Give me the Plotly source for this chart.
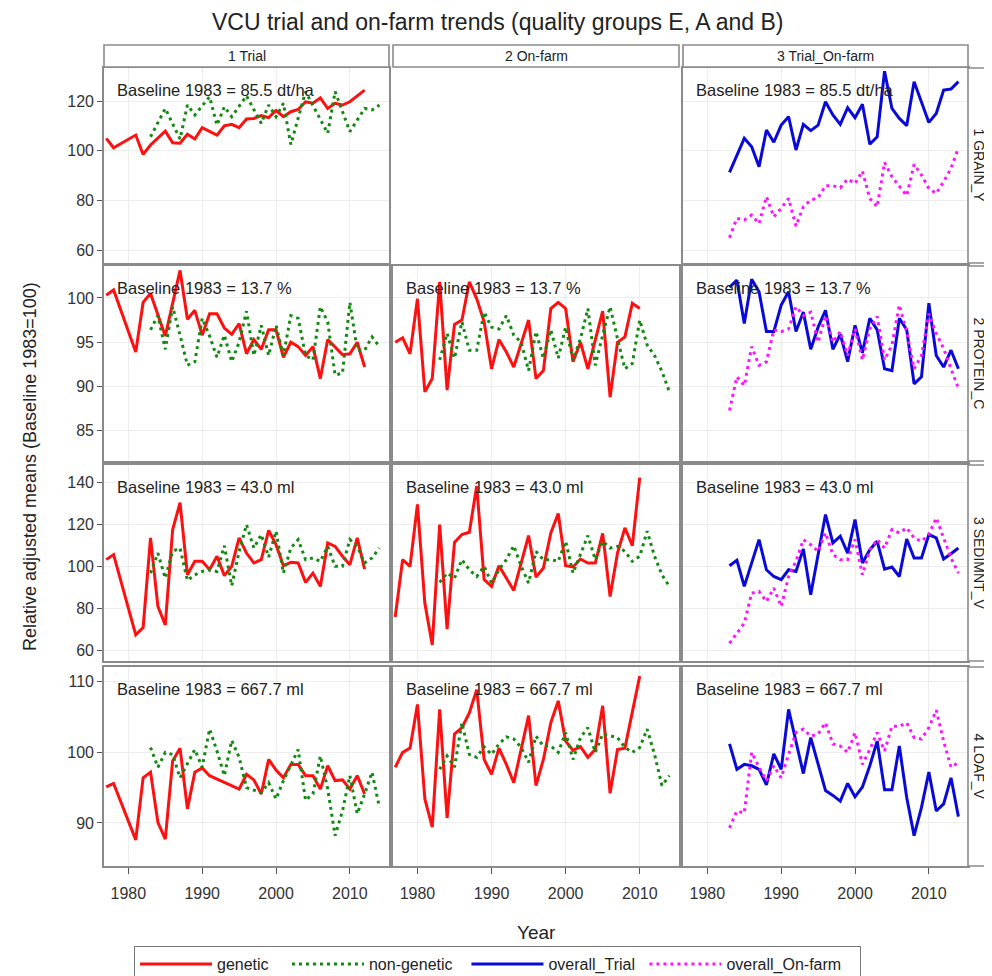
import plotly.graph_objects as go

# ---------------- data ----------------
YEARS_GEN_TRIAL = list(range(1977, 2013))    # genetic, 1 Trial
YEARS_GEN_FARM = list(range(1977, 2011))     # genetic, 2 On-farm
YEARS_REST = list(range(1983, 2015))         # non-genetic and overall series

panels = ["1 Trial", "2 On-farm", "3 Trial_On-farm"]
traits = ["1 GRAIN_Y", "2 PROTEIN_C", "3 SEDIMNT_V", "4 LOAF_V"]
baselines = ["85.5 dt/ha", "13.7 %", "43.0 ml", "667.7 ml"]
ytick_vals = [[60, 80, 100, 120], [85, 90, 95, 100], [60, 80, 100, 120, 140], [90, 100, 110]]
xtick_vals = [1980, 1990, 2000, 2010]

# genetic, 1 Trial (1977..2012)
gen_trial_grain = [105.0, 101.2, None, None, 106.3, 98.5, 102.3, None, 107.9, 103.2, 103.0, 106.6,
                   104.7, 109.3, 107.8, 106.3, 110.0, 110.6, 109.3, 112.8, 113.0, 114.1, 113.3, 116.2,
                   113.7, 115.7, 116.6, 119.7, 119.1, 121.3, 117.0, 119.1, 118.4, 119.7, 122.1, 124.4]
gen_trial_protein = [100.3, 100.9, None, None, 93.9, 99.5, 100.5, None, 95.7, None, 103.1, 97.6,
                     98.6, 95.8, 98.2, 98.2, 96.6, 95.9, 97.1, 93.7, 95.3, 94.2, 96.4, 96.4,
                     93.3, 95.0, 94.5, 93.5, 94.5, 90.9, 95.3, 94.4, 93.6, 93.7, 95.0, 92.2]
gen_trial_sediment = [103.2, 105.6, None, None, 67.5, 71.0, 113.5, 81.0, 72.2, 117.5, 130.2, 96.0,
                      102.4, 102.4, 98.4, 104.8, 95.6, 100.0, 113.5, 106.3, 101.6, 103.2, 117.1, 110.3,
                      100.3, 101.9, 101.6, 92.4, 96.8, 90.5, 111.1, 109.5, 104.8, 100.8, 113.5, 98.7]
gen_trial_loaf = [95.1, 95.6, None, None, 87.6, 96.4, 97.2, 90.1, 87.7, 98.8, 100.6, 92.0,
                  97.2, 97.8, 96.7, None, None, None, 94.8, 96.9, 96.1, 94.1, 99.0, 97.5,
                  96.4, 98.3, 98.3, 96.7, 96.7, 94.8, 98.1, 96.0, 96.1, 94.8, 96.7, 94.1]

# genetic, 2 On-farm (1977..2010)
gen_farm_protein = [95.0, 95.5, 93.7, 99.9, 89.4, 90.9, 101.8, 89.6, 97.0, 97.5, 101.8, 99.9,
                    97.3, 92.0, 95.3, 93.9, 92.2, None, 97.5, 90.9, 91.8, 98.8, 99.5, 98.8,
                    92.8, 95.0, 92.0, None, 98.5, 88.8, 95.0, 95.6, 99.4, 98.8]
gen_farm_sediment = [76.0, 103.2, 100.0, 129.4, 82.5, 62.7, 119.8, 70.2, 111.4, 115.1, 116.2, 138.1,
                     93.7, 90.5, 100.3, 94.4, 88.6, None, 114.6, 94.9, 99.2, 115.9, 125.1, 100.3,
                     99.7, 103.5, 101.6, 101.6, 115.6, 85.7, 106.3, 118.3, 109.8, 142.1]
gen_farm_loaf = [97.9, 100.0, 100.6, 106.8, 93.4, 89.4, 106.1, 90.7, 102.6, 103.5, 105.6, 108.9,
                 99.0, 96.9, 100.6, 98.3, 95.7, None, 105.2, 95.3, 99.0, 104.2, 107.3, 101.6,
                 100.3, 100.8, 99.3, 100.4, 106.6, 94.2, 100.4, 100.6, None, 110.8]

# non-genetic, 1 Trial (1983..2014)
nongen_trial_grain = [105.6, None, 117.0, None, 104.7, 118.4, 114.4, None, 121.7, 110.3, 117.7, 113.7,
                      None, 122.1, None, 111.0, 118.4, 113.7, 119.1, 102.5, None, 123.8, None, None,
                      107.0, 123.8, None, 107.7, None, 117.0, 116.4, 118.4]
nongen_trial_protein = [96.4, 98.0, 94.2, 99.0, 95.8, 92.4, 92.8, 97.7, 95.7, 93.3, 95.8, 92.8,
                        95.0, 98.5, 93.5, 96.9, 93.5, 96.9, 93.5, 98.0, 97.7, 93.5, 93.0, 99.0,
                        97.3, 91.3, 91.5, 99.5, 94.1, 94.1, 95.6, 94.5]
nongen_trial_sediment = [96.8, 106.3, 94.4, 107.1, 108.7, 93.3, 96.0, 97.6, 98.4, 97.6, 109.8, 90.8,
                         107.1, 119.8, 108.7, 115.1, 104.4, 116.7, 96.8, 108.7, 112.7, 103.2, 104.0, 102.4,
                         109.5, 100.0, 100.0, 112.7, 109.5, 101.6, 104.0, 108.7]
nongen_trial_loaf = [100.7, 97.9, 100.0, 99.7, 96.4, 98.3, 100.4, 97.9, 103.3, 100.2, 96.7, 101.7,
                     99.3, 95.0, 94.6, 94.3, 95.7, 93.4, 96.0, 98.3, 100.4, 93.2, 94.1, 99.5,
                     94.8, 88.2, 91.7, 96.7, 91.3, 94.1, 97.2, 92.2]

# non-genetic, 2 On-farm (1983..2014)
nongen_farm_protein = [93.0, 96.0, 93.2, 97.3, 94.1, 94.1, 98.4, 96.7, 96.5, 98.0, 95.8, 95.0,
                       91.8, 96.2, 93.2, 96.4, 93.2, 96.7, 93.0, 95.4, 98.8, 92.4, 95.8, 99.0,
                       95.4, 92.0, 92.6, 97.5, 94.7, 93.5, 91.7, 89.4]
nongen_farm_sediment = [92.4, 96.8, 94.4, 103.2, 98.4, 95.2, 100.0, 92.1, 98.4, 103.2, 109.8, 100.0,
                        92.1, 107.1, 103.2, 103.2, 102.4, 111.9, 96.8, 105.6, 114.6, 103.2, 111.9, 108.7,
                        109.5, 107.1, 102.4, 104.8, 116.7, 104.8, 96.0, 90.5]
nongen_farm_loaf = [97.6, 99.5, 97.9, 104.2, 99.7, 99.3, 100.8, 99.7, 101.2, 102.2, 101.9, 100.7,
                    98.6, 102.3, 100.9, 100.9, 100.0, 102.8, 99.0, 102.1, 103.5, 100.0, 102.6, 102.3,
                    102.1, 100.7, 100.0, 100.7, 103.3, 99.7, 95.3, 96.7]

# overall_Trial, 3 Trial_On-farm (1983..2014)
overall_trial_grain = [91.3, 98.3, 105.0, 101.6, 93.6, 108.3, 103.4, 110.3, 113.7, 100.3, 110.6, 108.1,
                       110.3, 119.7, 114.4, 110.6, 117.3, 113.3, 118.7, 102.6, 105.6, 132.0, 117.0, 113.0,
                       110.1, 127.8, 119.7, 111.4, 115.0, 124.4, 124.8, 127.8]
overall_trial_protein = [101.2, 102.0, 97.1, 102.1, 100.7, 96.2, 96.2, 99.2, 100.7, 96.2, 98.4, 94.2,
                         96.7, 98.6, 94.2, 95.9, 92.8, 96.9, 93.8, 97.7, 96.4, 92.0, 91.8, 97.7,
                         96.4, 90.3, 91.1, 99.4, 93.5, 92.2, 94.1, 92.0]
overall_trial_sediment = [100.3, 102.9, 90.5, None, 112.7, 98.4, 95.2, 93.7, 98.4, 97.6, 108.3, 86.5,
                          104.8, 124.6, 111.1, 114.3, 106.3, 122.2, 101.6, 107.9, 111.9, 98.7, 99.7, 95.2,
                          113.0, 104.0, 104.0, 115.1, 113.5, 103.5, 106.0, 108.7]
overall_trial_loaf = [101.2, 97.6, 98.3, 98.1, 97.6, 95.4, 99.8, 97.6, 106.1, 101.4, 97.0, 102.1,
                      98.3, 94.6, 93.9, 93.1, 95.6, 93.7, 95.1, 98.1, 101.6, 94.7, 94.7, 100.9,
                      93.6, 88.2, 92.2, 97.2, 91.7, 92.7, 96.4, 90.9]

# overall_On-farm, 3 Trial_On-farm (1983..2014)
overall_farm_grain = [65.0, 72.8, 72.1, 74.1, 70.7, 81.5, 73.4, 76.8, 80.8, 69.7, 77.4, 80.1,
                      81.1, 85.9, 85.9, 85.1, 88.6, 86.8, 91.8, 80.8, 77.4, 95.3, 89.5, 85.9,
                      81.9, 94.5, 90.2, 84.8, 82.8, 87.5, 92.9, 101.2]
overall_farm_protein = [87.3, 91.1, 90.1, 94.5, 92.4, 92.8, 96.4, 96.2, 96.5, 99.0, 98.0, 98.4,
                        95.0, 98.0, 95.0, 96.2, 93.5, 96.5, 93.0, 96.5, 97.9, 93.0, 94.7, 99.2,
                        96.2, 92.0, 93.5, 98.2, 96.0, 94.3, 92.0, 89.8]
overall_farm_sediment = [63.5, 68.3, 73.0, 87.3, 88.1, 83.3, 89.7, 81.0, 95.2, 102.4, 112.7, 110.3,
                         107.1, 115.9, 105.6, 103.2, 103.2, 112.7, 96.0, 107.9, 112.7, 108.7, 117.5, 115.9,
                         118.3, 113.5, 111.9, 115.1, 123.0, 113.5, 104.0, 96.8]
overall_farm_loaf = [89.3, 91.7, 91.4, 100.0, 97.9, 96.0, 98.1, 96.4, 99.7, 102.8, 103.3, 102.3,
                     102.6, 104.2, 101.2, 100.9, 100.0, 102.8, 98.3, 100.4, 102.8, 100.2, 103.7, 103.7,
                     104.2, 102.1, 101.9, 103.5, 106.0, 101.6, 97.9, 98.6]

# ---------------- styling / layout ----------------
OFF = 8                          # page body margin of the html page
W, H = 992 - OFF, 976 - OFF      # figure fills the window from the body margin on
FONT = "Liberation Sans, Arial, sans-serif"
STY = {
    "genetic": dict(color="#ff1010", width=3, dash="solid"),
    "non-genetic": dict(color="#128a12", width=3, dash="3px,4px"),
    "overall_Trial": dict(color="#0a0ad8", width=3, dash="solid"),
    "overall_On-farm": dict(color="#ff14ff", width=3, dash="3px,4px"),
}
# trailing no-break spaces only pad the legend entries to the reference spacing
LEGEND_PAD = {"genetic": 3, "non-genetic": 2, "overall_Trial": 1, "overall_On-farm": 3}
col_px = [(104, 389), (393, 679), (683, 968)]
row_px = [(68, 263), (266, 461), (465, 661), (667, 866)]
yranges = [[54.8, 133.3], [81.6, 103.6], [55.1, 148.1], [83.9, 112.1]]
xrange_ = [1976.7, 2015.3]


def fx(p):
    return (p - OFF) / W


def fy(p):
    return 1 - (p - OFF) / H


series = {
    (0, 0): [("genetic", YEARS_GEN_TRIAL, gen_trial_grain), ("non-genetic", YEARS_REST, nongen_trial_grain)],
    (1, 0): [("genetic", YEARS_GEN_TRIAL, gen_trial_protein), ("non-genetic", YEARS_REST, nongen_trial_protein)],
    (2, 0): [("genetic", YEARS_GEN_TRIAL, gen_trial_sediment), ("non-genetic", YEARS_REST, nongen_trial_sediment)],
    (3, 0): [("genetic", YEARS_GEN_TRIAL, gen_trial_loaf), ("non-genetic", YEARS_REST, nongen_trial_loaf)],
    (0, 1): [],
    (1, 1): [("genetic", YEARS_GEN_FARM, gen_farm_protein), ("non-genetic", YEARS_REST, nongen_farm_protein)],
    (2, 1): [("genetic", YEARS_GEN_FARM, gen_farm_sediment), ("non-genetic", YEARS_REST, nongen_farm_sediment)],
    (3, 1): [("genetic", YEARS_GEN_FARM, gen_farm_loaf), ("non-genetic", YEARS_REST, nongen_farm_loaf)],
    (0, 2): [("overall_Trial", YEARS_REST, overall_trial_grain), ("overall_On-farm", YEARS_REST, overall_farm_grain)],
    (1, 2): [("overall_Trial", YEARS_REST, overall_trial_protein), ("overall_On-farm", YEARS_REST, overall_farm_protein)],
    (2, 2): [("overall_Trial", YEARS_REST, overall_trial_sediment), ("overall_On-farm", YEARS_REST, overall_farm_sediment)],
    (3, 2): [("overall_Trial", YEARS_REST, overall_trial_loaf), ("overall_On-farm", YEARS_REST, overall_farm_loaf)],
}

fig = go.Figure()
layout = {}
annotations = []
shapes = []
shown = set()
legend_order = ["genetic", "non-genetic", "overall_Trial", "overall_On-farm"]
AX_LINE = "#8a8a8a"
GRID = "#ededed"
TICKFONT = dict(size=16, color="#333", family=FONT)

for r in range(4):
    for c in range(3):
        k = r * 3 + c + 1
        xa = "xaxis" if k == 1 else f"xaxis{k}"
        ya = "yaxis" if k == 1 else f"yaxis{k}"
        xs = "x" if k == 1 else f"x{k}"
        ys = "y" if k == 1 else f"y{k}"
        bottom = r == 3
        left = c == 0
        layout[xa] = dict(
            domain=[fx(col_px[c][0]), fx(col_px[c][1])], anchor=ys, range=xrange_,
            tickvals=xtick_vals, showticklabels=bottom, ticks="outside" if bottom else "",
            ticklen=6, tickcolor="#555", tickwidth=1, ticklabelstandoff=6,
            showgrid=True, gridcolor=GRID, gridwidth=1, zeroline=False,
            showline=True, mirror=True, linecolor=AX_LINE, linewidth=1.6,
            tickfont=TICKFONT,
        )
        layout[ya] = dict(
            domain=[fy(row_px[r][1]), fy(row_px[r][0])], anchor=xs, range=yranges[r],
            tickvals=ytick_vals[r], showticklabels=left, ticks="outside" if left else "",
            ticklen=5, tickcolor="#555", tickwidth=1,
            showgrid=True, gridcolor=GRID, gridwidth=1, zeroline=False,
            showline=True, mirror=True, linecolor=AX_LINE, linewidth=1.6,
            tickfont=TICKFONT,
        )
        for name, yrs, vals in series[(r, c)]:
            fig.add_trace(go.Scatter(
                x=yrs, y=vals, mode="lines", name=name + "\u00a0" * LEGEND_PAD[name],
                legendgroup=name, showlegend=name not in shown, connectgaps=True,
                line=STY[name], xaxis=xs, yaxis=ys,
                legendrank=legend_order.index(name) + 1,
            ))
            shown.add(name)
        if series[(r, c)]:
            annotations.append(dict(
                text=f"Baseline 1983 = {baselines[r]}", xref=f"{xs} domain", yref=f"{ys} domain",
                x=0, y=1, xanchor="left", yanchor="middle", xshift=11, yshift=-22,
                showarrow=False, font=dict(size=16.5, color="#222", family=FONT),
            ))

# top strips
for c in range(3):
    shapes.append(dict(type="rect", xref="paper", yref="paper",
                       x0=fx(col_px[c][0]), x1=fx(col_px[c][1]), y0=fy(67), y1=fy(45),
                       line=dict(color=AX_LINE, width=1.6), fillcolor="white"))
    annotations.append(dict(text=panels[c], xref="paper", yref="paper",
                            x=(fx(col_px[c][0]) + fx(col_px[c][1])) / 2, y=fy(56),
                            xanchor="center", yanchor="middle", showarrow=False,
                            font=dict(size=14, color="#222", family=FONT)))
# right strips
for r in range(4):
    shapes.append(dict(type="rect", xref="paper", yref="paper",
                       x0=fx(968), x1=fx(990), y0=fy(row_px[r][1]), y1=fy(row_px[r][0]),
                       line=dict(color=AX_LINE, width=1.6), fillcolor="white"))
    annotations.append(dict(text=traits[r], xref="paper", yref="paper",
                            x=fx(979), y=(fy(row_px[r][0]) + fy(row_px[r][1])) / 2,
                            xanchor="center", yanchor="middle", textangle=90, showarrow=False,
                            font=dict(size=14, color="#222", family=FONT)))

# axis titles and main title
annotations.append(dict(text="Relative adjusted means (Baseline 1983=100)", xref="paper", yref="paper",
                        x=fx(30), y=fy(467), textangle=-90, showarrow=False,
                        xanchor="center", yanchor="middle",
                        font=dict(size=18, color="#222", family=FONT)))
annotations.append(dict(text="Year", xref="paper", yref="paper", x=fx(536), y=fy(932),
                        showarrow=False, xanchor="center", yanchor="middle",
                        font=dict(size=19, color="#222", family=FONT)))
annotations.append(dict(text="VCU trial and on-farm trends (quality groups E, A and B)",
                        xref="paper", yref="paper", x=fx(497), y=fy(22), showarrow=False,
                        xanchor="center", yanchor="middle",
                        font=dict(size=23, color="#222", family=FONT)))

fig.update_layout(
    width=W, height=H, margin=dict(l=0, r=0, t=0, b=0, autoexpand=False),
    paper_bgcolor="white", plot_bgcolor="white",
    annotations=annotations, shapes=shapes,
    showlegend=True,
    legend=dict(orientation="h", x=fx(134), xanchor="left", y=fy(946), yanchor="top",
                bordercolor="#777", borderwidth=1, bgcolor="white",
                font=dict(size=16, color="#222", family=FONT),
                traceorder="normal", itemwidth=72),
    **layout,
)

fig.write_html("out.html")
